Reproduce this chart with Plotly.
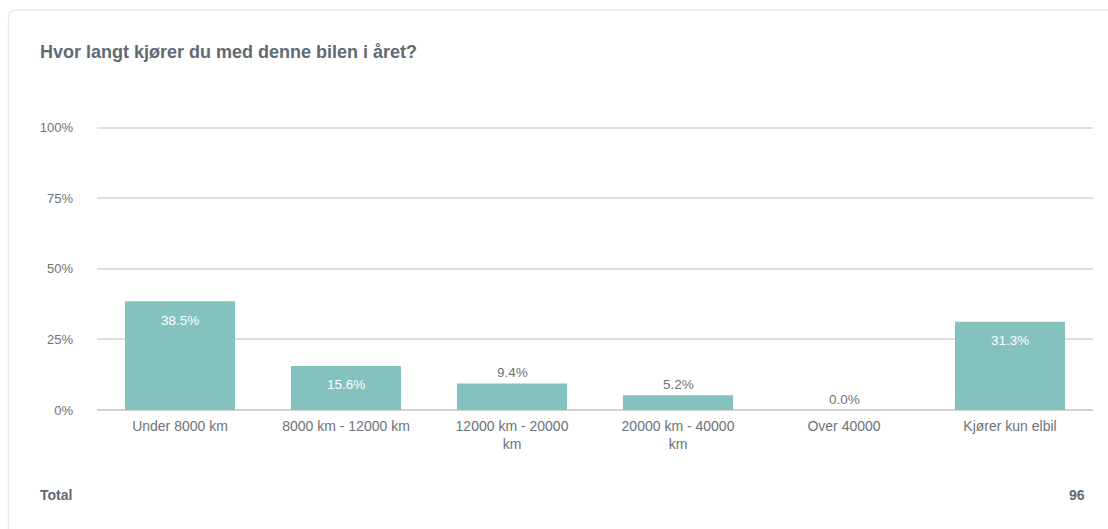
import plotly.graph_objects as go

# Survey question: annual driving distance
title = "Hvor langt kjører du med denne bilen i året?"
categories = [
    "Under 8000 km",
    "8000 km - 12000 km",
    "12000 km - 20000<br>km",
    "20000 km - 40000<br>km",
    "Over 40000",
    "Kjører kun elbil",
]
shares = [38.5, 15.6, 9.4, 5.2, 0.0, 31.3]
y_ticks = [0, 25, 50, 75, 100]
y_tick_labels = ["0%", "25%", "50%", "75%", "100%"]
total_respondents = 96

BAR_COLOR = "#84c2bf"
TEXT_GREY = "#6d7378"
TITLE_GREY = "#5f6a72"
FONT = "Liberation Sans, Arial, Helvetica, sans-serif"

W, H = 1108, 529
Y_MAX = 100.6
ZERO_PX, HUNDRED_PX = 410, 128
px_per_unit = (ZERO_PX - HUNDRED_PX) / 100
L, R = 97, 15
B = H - ZERO_PX
T = ZERO_PX - Y_MAX * px_per_unit
plot_w = W - L - R
plot_h = H - T - B


def px_x(p):
    return (p - L) / plot_w


def px_y(p):
    return (H - B - p) / plot_h


fig = go.Figure()
fig.add_trace(
    go.Bar(
        x=categories,
        y=shares,
        marker=dict(color=BAR_COLOR, line=dict(width=0)),
        hoverinfo="skip",
    )
)

# Value labels: large bars carry their label inside near the top, small ones above
annotations = []
for cat, v in zip(categories, shares):
    inside = v >= 15
    annotations.append(
        dict(
            x=cat, y=v, xref="x", yref="y",
            text=f"{v:.1f}%",
            showarrow=False,
            yshift=-19 if inside else 11,
            font=dict(family=FONT, size=13.5, color="#ffffff" if inside else TEXT_GREY),
        )
    )

# Card title and footer
annotations += [
    dict(
        x=px_x(38), y=px_y(52), xref="paper", yref="paper",
        xanchor="left", yanchor="middle", showarrow=False,
        text=f"<b>{title}</b>",
        font=dict(family=FONT, size=18, color=TITLE_GREY),
    ),
    dict(
        x=px_x(38), y=px_y(495), xref="paper", yref="paper",
        xanchor="left", yanchor="middle", showarrow=False,
        text="<b>Total</b>",
        font=dict(family=FONT, size=14, color=TITLE_GREY),
    ),
    dict(
        x=px_x(1087), y=px_y(495), xref="paper", yref="paper",
        xanchor="right", yanchor="middle", showarrow=False,
        text=f"<b>{total_respondents}</b>",
        font=dict(family=FONT, size=14, color=TITLE_GREY),
    ),
]

# Card outline with a rounded top-left corner
x0, y0, r = px_x(8.5), px_y(10.5), 8
card_path = (
    f"M {px_x(8.5)},{px_y(H + 20)} "
    f"L {x0},{px_y(10.5 + r)} "
    f"Q {x0},{y0} {px_x(8.5 + r)},{y0} "
    f"L {px_x(W + 20)},{y0}"
)

fig.update_layout(
    width=W,
    height=H,
    margin=dict(l=L, r=R, t=T, b=B, pad=0),
    paper_bgcolor="#ffffff",
    plot_bgcolor="#ffffff",
    showlegend=False,
    bargap=0.337,
    font=dict(family=FONT, size=13, color=TEXT_GREY),
    annotations=annotations,
    shapes=[
        dict(
            type="path", path=card_path, xref="paper", yref="paper",
            line=dict(color="#e8ecf0", width=1.5), layer="below",
        )
    ],
    xaxis=dict(
        showgrid=False,
        showline=False,
        ticks="",
        ticklabelstandoff=6,
        tickfont=dict(family=FONT, size=14, color=TEXT_GREY),
        fixedrange=True,
    ),
    yaxis=dict(
        range=[0, Y_MAX],
        tickvals=y_ticks,
        ticktext=y_tick_labels,
        showgrid=True,
        gridcolor="#dedede",
        gridwidth=1.5,
        zeroline=True,
        zerolinecolor="#d2d2d2",
        zerolinewidth=1.5,
        showline=False,
        ticks="",
        ticklabelstandoff=23,
        tickfont=dict(family=FONT, size=13, color=TEXT_GREY),
        fixedrange=True,
    ),
)

fig.write_html("out.html", config={"displayModeBar": False})
